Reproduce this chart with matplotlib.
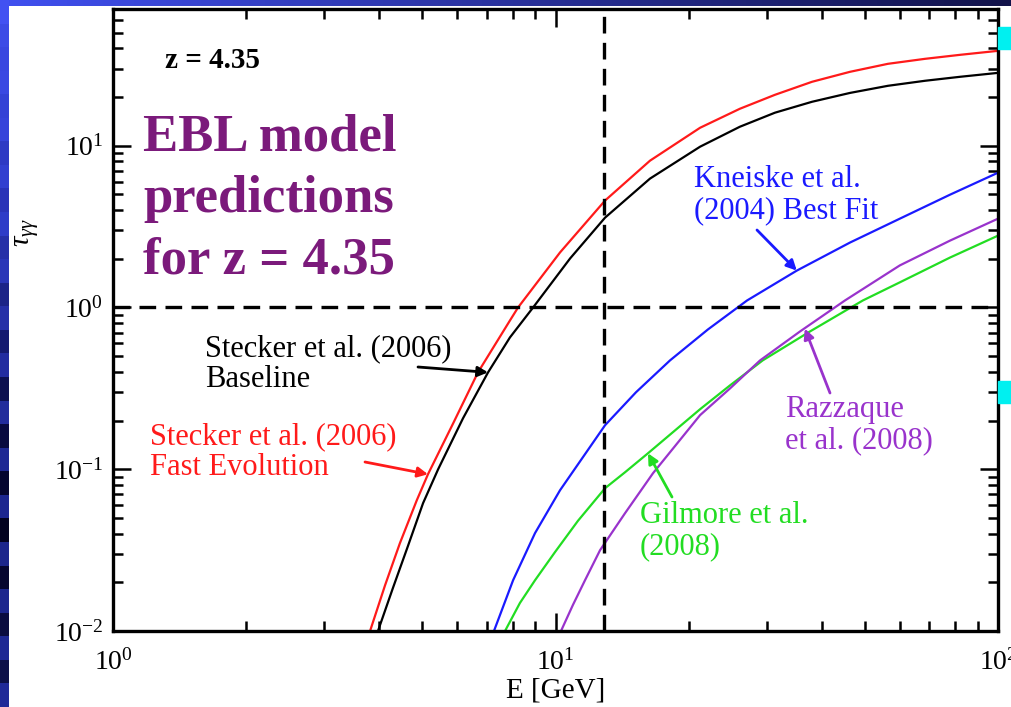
import numpy as np
import matplotlib
matplotlib.use("Agg")
import matplotlib.pyplot as plt
from matplotlib.colors import to_rgb
from matplotlib.ticker import LogLocator, FuncFormatter, NullFormatter

SERIF = ["Liberation Serif", "DejaVu Serif"]
plt.rcParams["font.family"] = SERIF
plt.rcParams["mathtext.fontset"] = "custom"
plt.rcParams["mathtext.rm"] = "Liberation Serif"
plt.rcParams["mathtext.it"] = "Liberation Serif:italic"
plt.rcParams["mathtext.bf"] = "Liberation Serif:bold"

# ---- optical depth curves, tau(E) for a source at z = 4.35 ----
stecker_fast_E   = [3.81, 4.12, 4.45, 4.86, 5.15, 5.87, 6.68, 7.89, 8.23, 10.24, 12.94,
                    16.35, 21.22, 26.1, 31.33, 38.0, 46.3, 56.4, 68.4, 82.1, 100.0]
stecker_fast_tau = [0.010, 0.0192, 0.0349, 0.0644, 0.0931, 0.192, 0.397, 0.831, 1.00, 2.19,
                    4.58, 8.08, 12.91, 16.92, 20.64, 24.84, 28.63, 32.08, 34.44, 36.46, 38.59]

stecker_base_E   = [3.97, 4.29, 4.64, 5.02, 5.43, 6.18, 7.04, 7.89, 8.90, 10.79, 12.94, 16.35,
                    21.22, 26.1, 31.33, 38.0, 46.3, 56.4, 68.4, 82.1, 100.0]
stecker_base_tau = [0.010, 0.0184, 0.0335, 0.0617, 0.100, 0.2065, 0.397, 0.653, 1.00, 2.01,
                    3.59, 6.26, 9.86, 13.10, 16.0, 18.69, 21.2, 23.46, 25.2, 26.67, 28.2]

kneiske_E   = [7.26, 8.02, 8.99, 10.24, 12.94, 15.2, 18.15, 22.1, 27.1, 35.1, 46.3, 60.0,
               77.9, 100.0]
kneiske_tau = [0.010, 0.0206, 0.0403, 0.0742, 0.187, 0.299, 0.471, 0.731, 1.105, 1.69, 2.52,
               3.54, 4.98, 6.81]

gilmore_E   = [7.69, 8.31, 8.99, 9.97, 11.24, 12.94, 14.36, 16.18, 21.22, 24.8, 29.4, 37.6,
               49.5, 60.0, 77.9, 100.0]
gilmore_tau = [0.010, 0.0149, 0.0206, 0.0307, 0.0480, 0.0763, 0.0958, 0.1255, 0.235, 0.330,
               0.471, 0.711, 1.105, 1.43, 2.035, 2.78]

razzaque_E   = [10.29, 10.95, 11.66, 12.61, 14.36, 16.61, 21.22, 24.8, 29.0, 35.7, 45.1,
                60.0, 77.9, 100.0]
razzaque_tau = [0.010, 0.0145, 0.0206, 0.0316, 0.0535, 0.0945, 0.216, 0.316, 0.471, 0.711,
                1.105, 1.82, 2.59, 3.54]

# reference lines
e_mark = 12.9     # GeV
tau_mark = 1.0

x_limits = (1.0, 100.0)
y_limits = (0.01, 70.0)

W, H = 1011, 707
fig = plt.figure(figsize=(W / 100, H / 100), dpi=100, facecolor="white")


def fpos(x, y):
    """pixel position (from top-left) -> figure fraction"""
    return (x / W, 1 - y / H)


# ---- slide decoration: top bar and left strip ----
top = fig.add_axes([0, 1 - 6 / H, 1, 6 / H])
grad = np.linspace(0, 1, 256)
c0, c1 = np.array(to_rgb("#4050f0")), np.array(to_rgb("#12134a"))
top.imshow((c0[None, :] * (1 - grad[:, None]) + c1[None, :] * grad[:, None])[None, :, :],
           aspect="auto", extent=[0, 1, 0, 1])
top.set_axis_off()

strip_colors = ["#4251f2", "#3c4be6", "#3947e0", "#3a48e2", "#3442d6", "#3644da",
                "#2e3ac4", "#3240d0", "#2a34b8", "#2e3cc8", "#2630a8", "#2a36b8",
                "#1c2488", "#2630a8", "#141a70", "#222ca0", "#0c1050", "#222c9c",
                "#080a40", "#1e2894", "#040530", "#1c2690", "#020220", "#1c268c",
                "#060630", "#1c268e", "#0a0c40", "#1e2894", "#0c1048", "#202a98"]
left = fig.add_axes([0, 0, 9 / W, 1])
left.imshow(np.array([to_rgb(c) for c in strip_colors])[:, None, :],
            aspect="auto", extent=[0, 1, 0, 1], interpolation="nearest")
left.set_axis_off()

for yy in (27, 381):
    fig.patches.append(plt.Rectangle(fpos(998, yy + 22), 13 / W, 22 / H,
                                     transform=fig.transFigure, color="#00f0f0", zorder=5))

# ---- main axes ----
ax = fig.add_axes([113 / W, 1 - 631 / H, (998 - 113) / W, (631 - 9) / H])
ax.set_xscale("log")
ax.set_yscale("log")
ax.set_xlim(*x_limits)
ax.set_ylim(*y_limits)

lw = 1.6
ax.plot(stecker_fast_E, stecker_fast_tau, color="#ff1a1a", lw=lw)
ax.plot(stecker_base_E, stecker_base_tau, color="black", lw=lw)
ax.plot(kneiske_E, kneiske_tau, color="#1a1aff", lw=lw)
ax.plot(gilmore_E, gilmore_tau, color="#22dd22", lw=lw)
ax.plot(razzaque_E, razzaque_tau, color="#9933cc", lw=lw)

dash = (0, (5, 2.8))
ax.axvline(e_mark, color="black", lw=2.4, linestyle=dash)
ax.axhline(tau_mark, color="black", lw=2.4, linestyle=dash)

for s in ax.spines.values():
    s.set_linewidth(2.4)

ax.xaxis.set_major_locator(LogLocator(base=10, numticks=10))
ax.yaxis.set_major_locator(LogLocator(base=10, numticks=10))
ax.xaxis.set_minor_locator(LogLocator(base=10, subs=np.arange(2, 10), numticks=10))
ax.yaxis.set_minor_locator(LogLocator(base=10, subs=np.arange(2, 10), numticks=10))
ax.xaxis.set_minor_formatter(NullFormatter())
ax.yaxis.set_minor_formatter(NullFormatter())
fmt = FuncFormatter(lambda v, p: r"$\mathregular{10^{%d}}$" % int(round(np.log10(v))))
ax.xaxis.set_major_formatter(fmt)
ax.yaxis.set_major_formatter(fmt)
ax.tick_params(which="both", direction="in", top=True, right=True, labelsize=20, width=1.8)
ax.tick_params(which="major", length=13)
ax.tick_params(which="minor", length=7)
ax.tick_params(axis="x", pad=13)
ax.tick_params(axis="y", pad=7)

fig.text(*fpos(556, 690), "E [GeV]", fontsize=21, ha="center", va="center")
fig.text(*fpos(27, 233), r"$\tau_{\gamma\gamma}$", fontsize=21, ha="center", va="center",
         rotation=90)

# ---- labels on the plot ----
fig.text(*fpos(165, 60), "z = 4.35", fontsize=21, fontweight="bold", ha="left", va="center")
fig.text(*fpos(143, 199), "EBL model\npredictions\nfor z = 4.35", fontsize=38,
         fontweight="bold", color="#7b1a7b", ha="left", va="center", linespacing=1.36)

arrow = dict(arrowstyle="-|>", lw=2, mutation_scale=15, shrinkA=0, shrinkB=0)


def note(text, color, text_xy, tail_xy, head_E, head_tau):
    fig.text(*fpos(*text_xy), text, fontsize=22, color=color, ha="left", va="center",
             linespacing=1.08)
    ax.annotate("", xy=(head_E, head_tau), xycoords="data",
                xytext=fpos(*tail_xy), textcoords="figure fraction",
                arrowprops=dict(arrow, color=color))


note("Stecker et al. (2006)\nBaseline", "black", (205, 364), (418, 367), 7.04, 0.397)
note("Stecker et al. (2006)\nFast Evolution", "#ff1a1a", (150, 452), (365, 462), 5.15, 0.0931)
note("Kneiske et al.\n(2004) Best Fit", "#1a1aff", (694, 195), (757, 230), 35.1, 1.69)
note("Razzaque\net al. (2008)", "#9933cc", (785, 425), (830, 393), 36.6, 0.74)
note("Gilmore et al.\n(2008)", "#22dd22", (640, 531), (672, 497), 16.18, 0.1255)

fig.savefig("out.png", dpi=100, facecolor="white")
